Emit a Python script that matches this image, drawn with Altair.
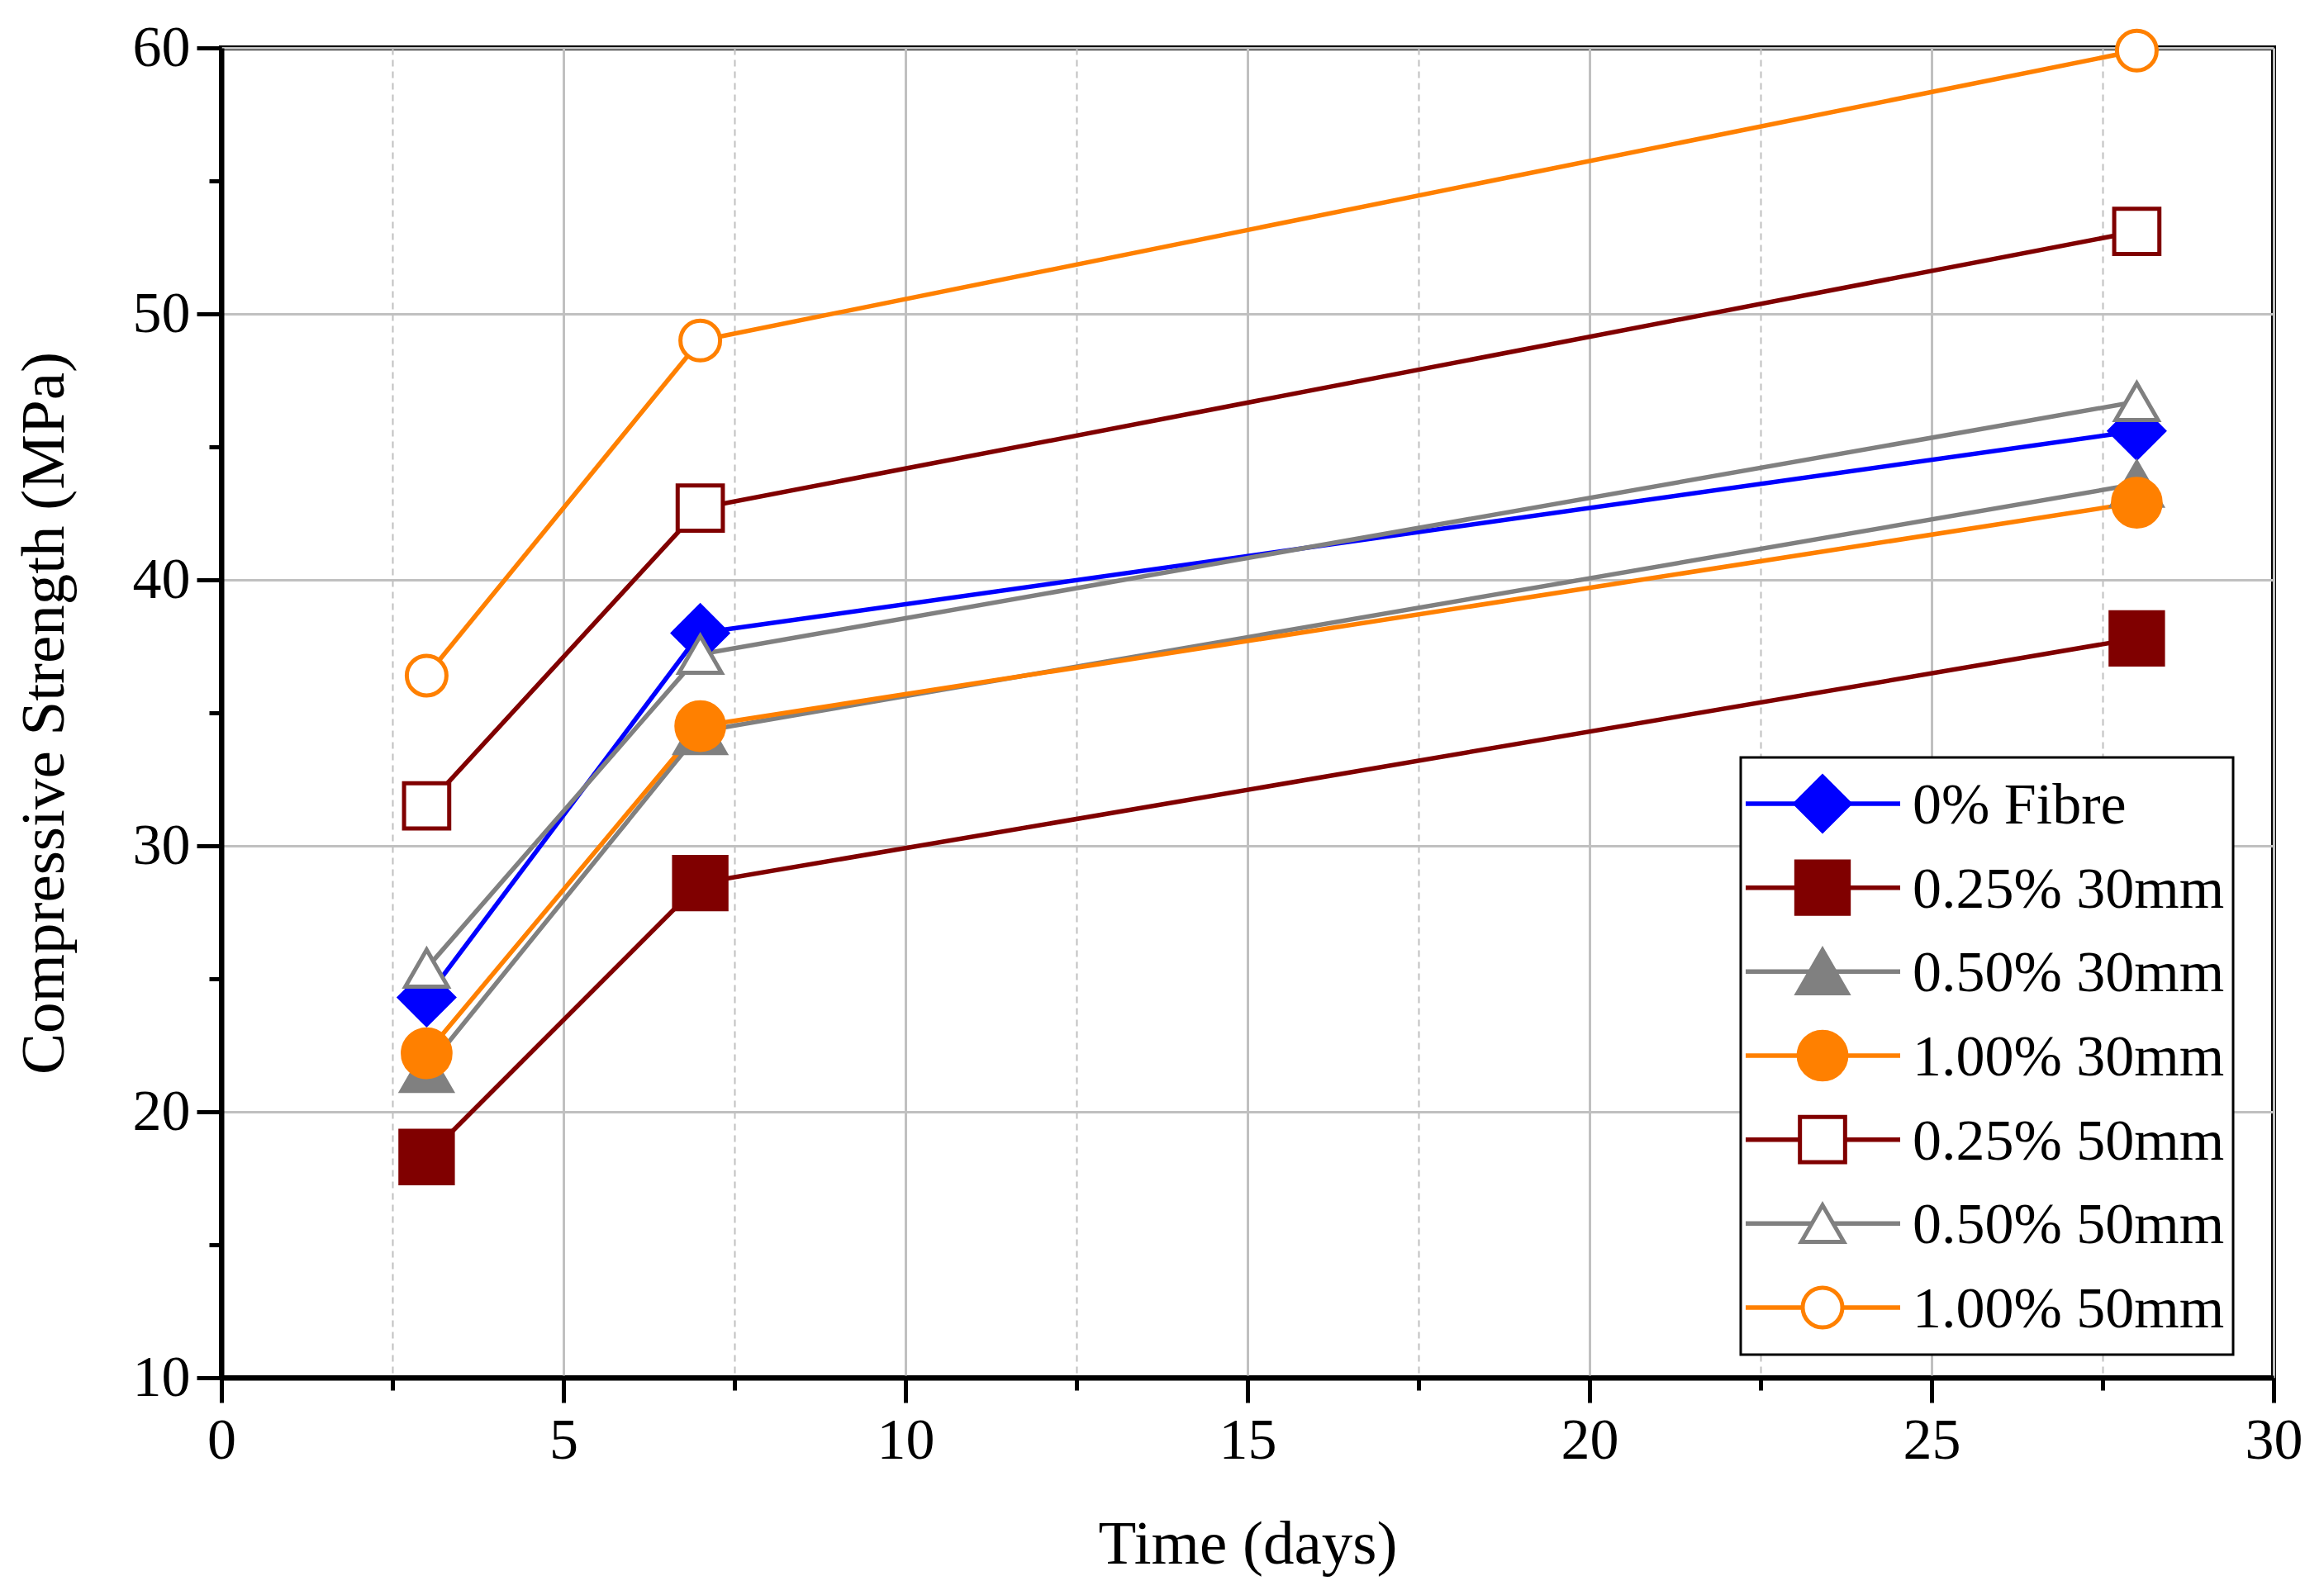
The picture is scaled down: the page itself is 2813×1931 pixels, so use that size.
import altair as alt
import pandas as pd

# ---------------- data ----------------
days = [3, 7, 28]
series = ["0% Fibre", "0.25% 30mm", "0.50% 30mm", "1.00% 30mm",
          "0.25% 50mm", "0.50% 50mm", "1.00% 50mm"]
fibre_0 = [24.3, 38.0, 45.6]
f025_30 = [18.3, 28.6, 37.8]
f050_30 = [21.6, 34.3, 43.6]
f100_30 = [22.2, 34.5, 42.9]
f025_50 = [31.5, 42.7, 53.1]
f050_50 = [25.4, 37.2, 46.7]
f100_50 = [36.4, 49.0, 59.9]
values = [fibre_0, f025_30, f050_30, f100_30, f025_50, f050_50, f100_50]

x_ticks = [0, 2.5, 5, 7.5, 10, 12.5, 15, 17.5, 20, 22.5, 25, 27.5, 30]
y_ticks = [10, 15, 20, 25, 30, 35, 40, 45, 50, 55, 60]

# ---------------- style ----------------
colors = ["#0000ff", "#800000", "#808080", "#ff8000", "#800000", "#808080", "#ff8000"]
fills = ["#0000ff", "#800000", "#808080", "#ff8000", "#ffffff", "#ffffff", "#ffffff"]
shapes = ["diamond", "square", "triangle-up", "circle", "square", "triangle-up", "circle"]
sizes = [4356, 2304, 4356, 2916, 2304, 4356, 2916]

rows = []
for name, vals in zip(series, values):
    for d, v in zip(days, vals):
        rows.append({"series": name, "day": d, "strength": v})
df = pd.DataFrame(rows)
leg = pd.DataFrame({"series": series, "order": list(range(len(series)))})

FONT = "Liberation Serif"
W, H = 2484, 1610

stroke_scale = alt.Scale(domain=series, range=colors)
fill_scale = alt.Scale(domain=series, range=fills)
shape_scale = alt.Scale(domain=series, range=shapes)
size_scale = alt.Scale(domain=series, range=sizes)

x_enc = alt.X(
    "day:Q", title="Time (days)",
    scale=alt.Scale(domain=[0, 30], nice=False, zero=False),
    axis=alt.Axis(
        values=x_ticks,
        labelExpr="datum.value % 5 === 0 ? format(datum.value, 'd') : ''",
        labelFlush=False, labelOverlap=False,
        tickSize={"condition": {"test": "datum.value % 5 !== 0", "value": 15}, "value": 30},
        gridDash={"condition": {"test": "datum.value % 5 !== 0", "value": [8, 6]}, "value": []},
        gridWidth={"condition": {"test": "datum.value % 5 !== 0", "value": 2}, "value": 3},
        labelPadding=12, titlePadding=54,
    ),
)
y_enc = alt.Y(
    "strength:Q", title="Compressive Strength (MPa)",
    scale=alt.Scale(domain=[10, 60], nice=False, zero=False),
    axis=alt.Axis(
        values=y_ticks,
        labelExpr="datum.value % 10 === 0 ? format(datum.value, 'd') : ''",
        labelOverlap=False, labelFlush=False,
        tickSize={"condition": {"test": "datum.value % 10 !== 0", "value": 15}, "value": 30},
        gridOpacity={"condition": {"test": "datum.value % 10 !== 0", "value": 0}, "value": 1},
        gridWidth=3,
        labelPadding=8, titlePadding=68,
    ),
)

base = alt.Chart(df)
lines = base.mark_line(strokeWidth=5.5).encode(
    x=x_enc, y=y_enc,
    stroke=alt.Stroke("series:N", scale=stroke_scale, legend=None),
    detail="series:N",
)
points = base.mark_point(opacity=1, strokeWidth=5, fillOpacity=1).encode(
    x="day:Q", y="strength:Q",
    shape=alt.Shape("series:N", scale=shape_scale, legend=None),
    size=alt.Size("series:N", scale=size_scale, legend=None),
    fill=alt.Fill("series:N", scale=fill_scale, legend=None),
    stroke=alt.Stroke("series:N", scale=stroke_scale, legend=None),
)
main = alt.layer(lines, points)

# ---------------- manual legend ----------------
box = alt.Chart(pd.DataFrame({"a": [0]})).mark_rect(
    fill="white", stroke="black", strokeWidth=3
).encode(x=alt.value(1839), x2=alt.value(2435), y=alt.value(859), y2=alt.value(1582))

leg_y = alt.Y("order:Q", scale=alt.Scale(domain=[0, 6], range=[915, 1525]), axis=None)
lb = alt.Chart(leg)
leg_rules = lb.mark_rule(strokeWidth=5.5).encode(
    x=alt.value(1845), x2=alt.value(2032), y=leg_y,
    stroke=alt.Stroke("series:N", scale=stroke_scale, legend=None),
)
leg_pts = lb.mark_point(opacity=1, strokeWidth=5, fillOpacity=1).encode(
    x=alt.value(1938), y=leg_y,
    shape=alt.Shape("series:N", scale=shape_scale, legend=None),
    size=alt.Size("series:N", scale=size_scale, legend=None),
    fill=alt.Fill("series:N", scale=fill_scale, legend=None),
    stroke=alt.Stroke("series:N", scale=stroke_scale, legend=None),
)
leg_text = lb.mark_text(align="left", baseline="middle", font=FONT, fontSize=70,
                        color="black", dy=3).encode(
    x=alt.value(2047), y=leg_y, text="series:N",
)
legend = alt.layer(box, leg_rules, leg_pts, leg_text)

chart = alt.layer(main, legend).resolve_scale(y="independent").properties(
    width=W, height=H,
    autosize=alt.AutoSizeParams(type="none"),
    padding={"left": 260, "top": 50, "right": 45, "bottom": 245},
).configure_view(
    stroke="black", strokeWidth=6
).configure_axis(
    labelFont=FONT, titleFont=FONT, labelFontSize=70, titleFontSize=75,
    titleFontWeight="normal", labelColor="black", titleColor="black",
    domainColor="black", domainWidth=6, tickColor="black", tickWidth=5,
    gridColor="#c0c0c0",
)

chart.save("out.html", embed_options={"renderer": "svg", "actions": False})
